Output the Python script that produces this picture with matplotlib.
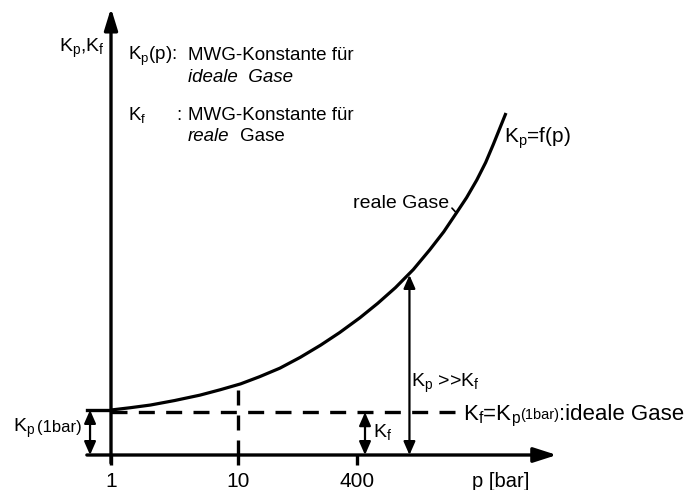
import numpy as np
import matplotlib.pyplot as plt

plt.rcParams['font.family'] = ['Liberation Sans', 'DejaVu Sans']
plt.rcParams['mathtext.default'] = 'regular'

# schematic pressure axis: positions of the labelled pressures
tick_pos = [0.0, 1.0, 1.94]
tick_labels = ['1', '10', '400']

# K_p as a function of pressure (real gases)
curve_u = [0.0, 0.15, 0.31, 0.50, 0.70, 0.86, 1.02, 1.17, 1.33, 1.49, 1.65, 1.80, 1.96,
           2.10, 2.24, 2.38, 2.51, 2.62, 2.72, 2.80, 2.88, 2.95, 3.01, 3.06, 3.11]
curve_k = [1.00, 1.05, 1.11, 1.21, 1.33, 1.45, 1.58, 1.74, 1.93, 2.17, 2.44, 2.72, 3.05,
           3.37, 3.72, 4.12, 4.56, 4.96, 5.38, 5.72, 6.11, 6.50, 6.90, 7.25, 7.60]

kp_1bar = 1.0      # K_p at 1 bar
kf_level = 0.95    # K_f (ideal gases)
kf_pos = 2.0       # where the K_f arrow is drawn
cmp_pos = 2.35     # where K_p >> K_f is drawn
kp_at_cmp = 4.0

fig = plt.figure(figsize=(6.89, 4.90), dpi=100)
ax = fig.add_axes([0, 0, 1, 1])
ax.set_xlim(-111 / 127, 578 / 127)
ax.set_ylim(-35 / 45, 455 / 45)
ax.axis('off')

fs = 14
lw_axis = 2.4

# axes with arrow heads
ax.annotate('', xy=(3.51, 0), xytext=(-0.19, 0),
            arrowprops=dict(arrowstyle='-|>,head_length=14,head_width=4.5', mutation_scale=1,
                            lw=lw_axis, color='black', shrinkA=0, shrinkB=0))
ax.annotate('', xy=(0, 9.93), xytext=(0, -0.18),
            arrowprops=dict(arrowstyle='-|>,head_length=13,head_width=4', mutation_scale=1,
                            lw=lw_axis, color='black', shrinkA=0, shrinkB=0))

# ticks and labels
for pos, lab in zip(tick_pos, tick_labels):
    ax.plot([pos, pos], [0, -0.22], color='black', lw=lw_axis, solid_capstyle='butt')
    ax.text(pos, -0.378, lab, ha='center', va='top', fontsize=15)
ax.text(2.843, -0.378, 'p [bar]', ha='left', va='top', fontsize=14.5)

# K_p(p) curve
ax.plot(curve_u, curve_k, color='black', lw=2.3, solid_capstyle='butt', solid_joinstyle='round')

# K_p(1bar) level and dashed guides
ax.plot([-0.19, 0], [kp_1bar, kp_1bar], color='black', lw=lw_axis)
ax.plot([0, 2.76], [kf_level, kf_level], color='black', lw=lw_axis, dashes=(4.8, 3.4))
ax.plot([tick_pos[1], tick_pos[1]], [0, curve_k[6] - 0.02], color='black', lw=lw_axis, dashes=(4.5, 3.0))

dbl = dict(arrowstyle='<|-|>,head_length=8,head_width=3.5', mutation_scale=1,
           lw=1.6, color='black', shrinkA=0, shrinkB=0)
ax.annotate('', xy=(-0.165, kp_1bar), xytext=(-0.165, 0), arrowprops=dbl)
ax.annotate('', xy=(kf_pos, kf_level), xytext=(kf_pos, 0), arrowprops=dbl)
ax.annotate('', xy=(cmp_pos, kp_at_cmp), xytext=(cmp_pos, 0), arrowprops=dbl)

# legend block
fl = 13.5
ax.text(-0.047, 8.956, '$K_p$,$K_f$', ha='right', va='baseline', fontsize=fs)
ax.text(0.134, 8.78, '$K_p$(p):', ha='left', va='baseline', fontsize=fl)
ax.text(0.606, 8.78, 'MWG-Konstante für', ha='left', va='baseline', fontsize=fl)
ax.text(0.606, 8.29, 'ideale  Gase', ha='left', va='baseline', fontsize=fl, style='italic')
ax.text(0.134, 7.44, '$K_f$', ha='left', va='baseline', fontsize=fl)
ax.text(0.51, 7.44, ':', ha='left', va='baseline', fontsize=fl)
ax.text(0.606, 7.44, 'MWG-Konstante für', ha='left', va='baseline', fontsize=fl)
ax.text(0.606, 6.97, 'reale', ha='left', va='baseline', fontsize=fl, style='italic')
ax.text(1.016, 6.97, 'Gase', ha='left', va='baseline', fontsize=fl)

# curve annotations
ax.text(3.094, 6.93, '$K_p$=f(p)', ha='left', va='baseline', fontsize=15)
ax.annotate('reale Gase', xy=(curve_u[18], curve_k[18]), xytext=(1.906, 5.49),
            ha='left', va='baseline', fontsize=fs,
            arrowprops=dict(arrowstyle='-', relpos=(1, 0.4), lw=1.2, color='black',
                            shrinkA=0, shrinkB=0))
ax.text(2.362, 1.51, '$K_p$ >>$K_f$', ha='left', va='baseline', fontsize=fs)
ax.text(2.063, 0.40, '$K_f$', ha='left', va='baseline', fontsize=fs)

ax.text(2.772, 0.778, '$K_f$=$K_p$', ha='left', va='baseline', fontsize=16)
ax.text(3.22, 0.80, '(1bar)', ha='left', va='baseline', fontsize=10.5)
ax.text(3.53, 0.778, ':ideale Gase', ha='left', va='baseline', fontsize=16)

ax.text(-0.772, 0.511, '$K_p$', ha='left', va='baseline', fontsize=fs)
ax.text(-0.583, 0.511, '(1bar)', ha='left', va='baseline', fontsize=12)

fig.savefig('out.png', dpi=100)
